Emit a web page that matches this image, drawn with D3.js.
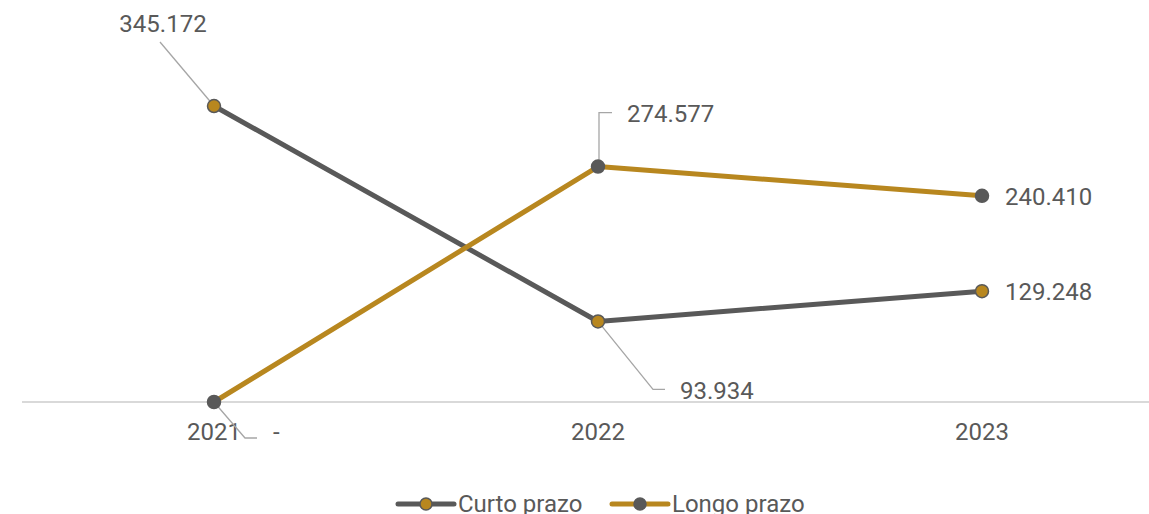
<!DOCTYPE html>
<html><head><meta charset="utf-8">
<script src="https://cdn.jsdelivr.net/npm/d3@7"></script>
<style>body{margin:0;background:#fff;}svg{display:block;font-family:Roboto,"Noto Sans",sans-serif;}</style>
</head><body><svg id="c" width="1149" height="514"></svg>
<script>
const categories = ["2021", "2022", "2023"];
const curtoPrazo = [345.172, 93.934, 129.248];
const longoPrazo = [0, 274.577, 240.410];
const curtoLabels = ["345.172", "93.934", "129.248"];
const longoLabels = ["-", "274.577", "240.410"];
const seriesNames = ["Curto prazo", "Longo prazo"];

const GOLD = "#B8871F", GRAY = "#595959", TXT = "#595959";
const FS = 24;
const svg = d3.select("#c");
const x = d3.scaleBand().domain(categories).range([22, 1174]).padding(0);
const y = d3.scaleLinear().domain([0, 400]).range([402, 59]);
const cx = c => x(c) + x.bandwidth() / 2;

// axis
const ax = svg.append("g").attr("transform", "translate(0,402)")
  .call(d3.axisBottom(x).tickSize(0).tickPadding(0));
ax.select(".domain").attr("stroke", "#d9d9d9").attr("stroke-width", 2).attr("d", "M22,0H1149");
ax.selectAll("text").attr("font-size", FS).attr("fill", TXT).attr("dy", null).attr("y", 38).attr("font-family", "Roboto");

const line = d3.line().x((d, i) => cx(categories[i])).y(d => y(d));
const series = [
  {name: seriesNames[0], vals: curtoPrazo, labels: curtoLabels, stroke: GRAY, mfill: GOLD},
  {name: seriesNames[1], vals: longoPrazo, labels: longoLabels, stroke: GOLD, mfill: GRAY}
];

// leader lines (drawn below markers)
const lead = svg.append("g").attr("fill", "none").attr("stroke", "#a6a6a6").attr("stroke-width", 1.3);
function px(i, v) { return [cx(categories[i]), y(v)]; }
let p;
p = px(0, curtoPrazo[0]); lead.append("path").attr("d", `M${p[0]},${p[1]}L${p[0]-54},${p[1]-64}`);
p = px(1, curtoPrazo[1]); lead.append("path").attr("d", `M${p[0]},${p[1]}L${p[0]+55},${p[1]+68}H${p[0]+67}`);
p = px(0, longoPrazo[0]); lead.append("path").attr("d", `M${p[0]},${p[1]}L${p[0]+31},${p[1]+36}H${p[0]+43}`);
p = px(1, longoPrazo[1]); lead.append("path").attr("d", `M${p[0]+1},${p[1]}V${p[1]-54}H${p[0]+14}`);

series.forEach(s => {
  svg.append("path").datum(s.vals).attr("d", line).attr("fill", "none")
    .attr("stroke", s.stroke).attr("stroke-width", 5).attr("stroke-linejoin", "round");
});
series.forEach(s => {
  svg.append("g").selectAll("circle").data(s.vals).join("circle")
    .attr("cx", (d, i) => cx(categories[i])).attr("cy", d => y(d)).attr("r", 6.5)
    .attr("fill", s.mfill).attr("stroke", GRAY).attr("stroke-width", 1.5);
});

// data labels
const lab = svg.append("g").attr("font-size", FS).attr("fill", TXT);
function addLab(i, v, text, dx, dy, anchor) {
  const q = px(i, v);
  lab.append("text").attr("x", q[0] + dx).attr("y", q[1] + dy).attr("text-anchor", anchor || "start").text(text);
}
addLab(0, curtoPrazo[0], curtoLabels[0], -51, -74, "middle");
addLab(1, curtoPrazo[1], curtoLabels[1], 82, 78);
addLab(2, curtoPrazo[2], curtoLabels[2], 23, 9);
addLab(0, longoPrazo[0], longoLabels[0], 59, 38);
addLab(1, longoPrazo[1], longoLabels[1], 29, -45);
addLab(2, longoPrazo[2], longoLabels[2], 23, 9);

// legend
const leg = svg.append("g");
const legX = [398, 612];
series.forEach((s, k) => {
  const g = leg.append("g").attr("transform", `translate(${legX[k]},504)`);
  g.append("line").attr("x1", 0).attr("x2", 56).attr("stroke", s.stroke).attr("stroke-width", 5).attr("stroke-linecap", "round");
  g.append("circle").attr("cx", 28).attr("r", 6).attr("fill", s.mfill).attr("stroke", GRAY).attr("stroke-width", 1.5);
  g.append("text").attr("x", 60).attr("y", 8).attr("font-size", FS).attr("fill", TXT).text(s.name);
});
</script></body></html>
